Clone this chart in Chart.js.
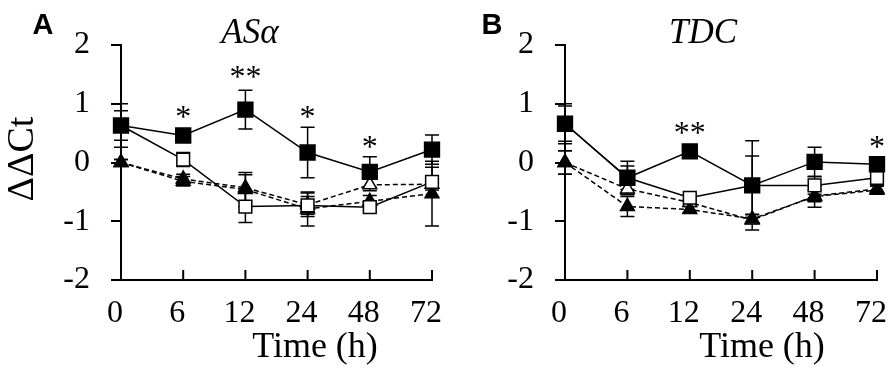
<!DOCTYPE html>
<html>
<head>
<meta charset="utf-8">
<script src="https://cdn.jsdelivr.net/npm/chart.js@4"></script>
<style>
  body { margin: 0; background: #fff; }
  .panel { position: absolute; top: 0; width: 446px; height: 377px; }
</style>
</head>
<body>
<div class="panel" style="left:0"><canvas id="chartA"></canvas></div>
<div class="panel" style="left:446px"><canvas id="chartB"></canvas></div>
<script>
var timeLabels = ['0', '6', '12', '24', '48', '72'];
var yTicks = [-2, -1, 0, 1, 2];

// panel A (ASa)
var aFilledSq = [0.63, 0.46, 0.90, 0.17, -0.16, 0.22];
var aFilledSqErr = [0.25, 0.06, 0.33, 0.43, 0.26, 0.25];
var aOpenSq = [0.63, 0.05, -0.75, -0.73, -0.76, -0.33];
var aOpenSqErr = [0.37, 0.12, 0.27, 0.15, 0.06, 0.25];
var aOpenTri = [0, -0.28, -0.43, -0.72, -0.38, -0.37];
var aOpenTriErr = [0.05, 0.08, 0.22, 0.2, 0.1, 0.1];
var aFilledTri = [0, -0.32, -0.46, -0.79, -0.66, -0.53];
var aFilledTriErr = [0.05, 0.08, 0.29, 0.29, 0.1, 0.55];
var aStars = ['', '*', '**', '*', '*', ''];
var aStarY = [null, 0.87, 1.55, 0.87, 0.36, null];

// panel B (TDC)
var bFilledSq = [0.66, -0.26, 0.19, -0.39, 0.01, -0.03];
var bFilledSqErr = [0.34, 0.28, 0.05, 0.76, 0.25, 0.08];
var bOpenSq = [0.66, -0.26, -0.60, -0.39, -0.39, -0.26];
var bOpenSqErr = [0.3, 0.2, 0.05, 0.5, 0.15, 0.08];
var bOpenTri = [0, -0.45, -0.68, -0.98, -0.57, -0.45];
var bOpenTriErr = [0.2, 0.1, 0.05, 0.05, 0.1, 0.05];
var bFilledTri = [0, -0.75, -0.80, -0.96, -0.58, -0.47];
var bFilledTriErr = [0.2, 0.17, 0.05, 0.08, 0.18, 0.07];
var bStars = ['', '', '**', '', '', '*'];
var bStarY = [null, null, 0.6, null, null, 0.36];

var serif = '"Liberation Serif", "Times New Roman", serif';

function makeSets(fs, fsE, os, osE, ot, otE, ft, ftE) {
    return [
        { data: ot, err: otE, pointStyle: 'triangle', pointRadius: 8, backgroundColor: '#fff', borderColor: '#000', borderDash: [5, 3], order: 4 },
        { data: ft, err: ftE, pointStyle: 'triangle', pointRadius: 8, backgroundColor: '#000', borderColor: '#000', borderDash: [5, 3], order: 3 },
        { data: os, err: osE, pointStyle: 'rect', pointRadius: 9, backgroundColor: '#fff', borderColor: '#000', order: 2 },
        { data: fs, err: fsE, pointStyle: 'rect', pointRadius: 10.5, backgroundColor: '#000', borderColor: '#000', order: 1 }
    ].map(function (d) {
        d.borderWidth = 1.5;
        d.pointBorderWidth = 1.5;
        d.pointBackgroundColor = d.backgroundColor;
        d.pointBorderColor = '#000';
        d.fill = false;
        d.tension = 0;
        return d;
    });
}

// error bars, x tick marks, stars and text
var decorPlugin = {
    id: 'decor',
    beforeDatasetsDraw: function (chart) {
        var ctx = chart.ctx;
        var x = chart.scales.x, y = chart.scales.y;
        ctx.save();
        ctx.strokeStyle = '#000';
        ctx.lineWidth = 1.5;
        chart.data.datasets.forEach(function (ds) {
            ds.data.forEach(function (v, i) {
                var px = x.getPixelForValue(i);
                var top = y.getPixelForValue(v + ds.err[i]);
                var bot = y.getPixelForValue(v - ds.err[i]);
                ctx.beginPath();
                ctx.moveTo(px, top); ctx.lineTo(px, bot);
                ctx.moveTo(px - 7, top); ctx.lineTo(px + 7, top);
                ctx.moveTo(px - 7, bot); ctx.lineTo(px + 7, bot);
                ctx.stroke();
            });
        });
        // x tick marks pointing up
        var area = chart.chartArea;
        ctx.lineWidth = 2;
        timeLabels.forEach(function (l, i) {
            var px = x.getPixelForValue(i);
            ctx.beginPath();
            ctx.moveTo(px, area.bottom); ctx.lineTo(px, area.bottom - 10);
            ctx.stroke();
        });
        ctx.restore();
    },
    afterDraw: function (chart) {
        var o = chart.options.plugins.decor;
        var ctx = chart.ctx;
        var x = chart.scales.x, y = chart.scales.y;
        ctx.save();
        ctx.fillStyle = '#000';
        ctx.textAlign = 'center';
        ctx.textBaseline = 'middle';
        ctx.font = '32px ' + serif;
        o.stars.forEach(function (s, i) {
            if (!s) return;
            ctx.fillText(s, x.getPixelForValue(i), y.getPixelForValue(o.starY[i]) + 7);
        });
        ctx.textBaseline = 'alphabetic';
        ctx.font = 'italic 35px ' + serif;
        ctx.fillText(o.title, o.titleX, 43);
        ctx.font = '36px ' + serif;
        ctx.fillText('Time (h)', o.xLabelX, 357);
        ctx.font = 'bold 29px "Liberation Sans", Arial, sans-serif';
        ctx.fillText(o.letter, o.letterX, 34);
        if (o.yLabel) {
            ctx.translate(33, 159);
            ctx.rotate(-Math.PI / 2);
            ctx.font = '38px ' + serif;
            ctx.fillText(o.yLabel, 0, 0);
        }
        ctx.restore();
    }
};

function makeChart(id, sets, left, right, deco) {
    return new Chart(document.getElementById(id), {
        type: 'line',
        data: { labels: timeLabels, datasets: sets },
        options: {
            responsive: true,
            maintainAspectRatio: false,
            animation: false,
            layout: { padding: { top: 45, right: right, left: 0, bottom: 0 } },
            plugins: { legend: { display: false }, tooltip: { enabled: false }, decor: deco },
            scales: {
                x: {
                    type: 'category',
                    offset: false,
                    grid: { display: false, drawTicks: false },
                    border: { color: '#000', width: 2 },
                    ticks: { color: '#000', font: { family: serif, size: 32 }, padding: 14, labelOffset: -6, maxRotation: 0, autoSkip: false },
                    afterFit: function (s) { s.height = 97; s.paddingLeft = 0; s.paddingRight = 0; }
                },
                y: {
                    min: -2, max: 2,
                    grid: { drawOnChartArea: false, drawTicks: true, tickLength: 10, color: '#000', lineWidth: 2 },
                    border: { color: '#000', width: 2 },
                    afterBuildTicks: function (s) { s.ticks = yTicks.map(function (v) { return { value: v }; }); },
                    ticks: { color: '#000', font: { family: serif, size: 32 }, padding: 21 },
                    afterFit: function (s) { s.width = left; s.paddingTop = 0; s.paddingBottom = 0; }
                }
            }
        },
        plugins: [decorPlugin]
    });
}

makeChart('chartA', makeSets(aFilledSq, aFilledSqErr, aOpenSq, aOpenSqErr, aOpenTri, aOpenTriErr, aFilledTri, aFilledTriErr), 121, 14,
    { stars: aStars, starY: aStarY, title: 'ASα', titleX: 250, xLabelX: 315, letter: 'A', letterX: 43, yLabel: 'ΔΔCt' });
makeChart('chartB', makeSets(bFilledSq, bFilledSqErr, bOpenSq, bOpenSqErr, bOpenTri, bOpenTriErr, bFilledTri, bFilledTriErr), 119, 15,
    { stars: bStars, starY: bStarY, title: 'TDC', titleX: 257, xLabelX: 316, letter: 'B', letterX: 46, yLabel: '' });
</script>
</body>
</html>
